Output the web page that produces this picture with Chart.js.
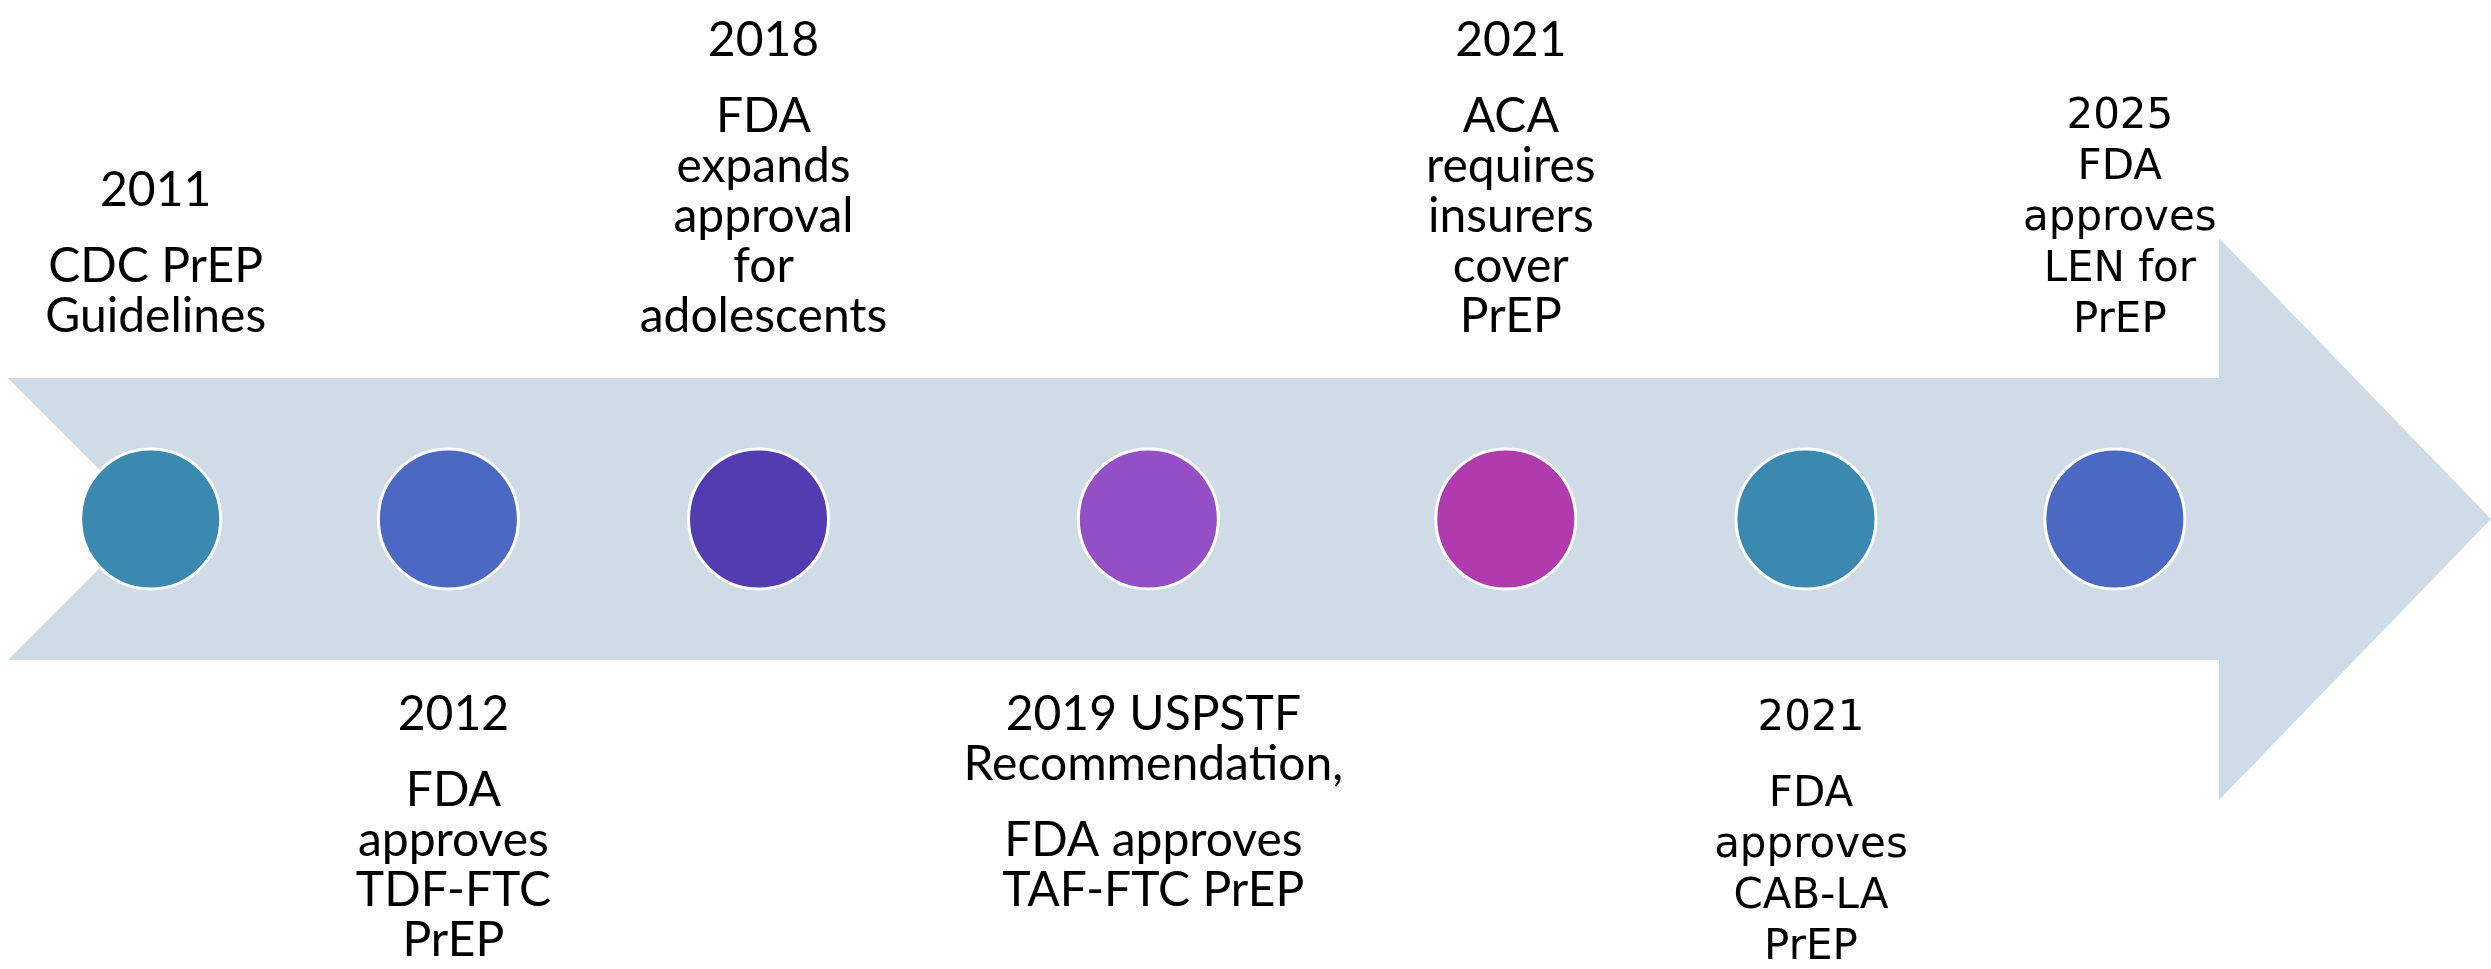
<!DOCTYPE html>
<html>
<head>
<meta charset="utf-8">
<title>PrEP timeline</title>
<script src="https://cdn.jsdelivr.net/npm/chart.js@4.4.1/dist/chart.umd.min.js"></script>
<style>
  html, body { margin: 0; padding: 0; background: #fff; }
  #wrap { width: 2491px; height: 969px; }
</style>
</head>
<body>
<div id="wrap"><canvas id="timeline"></canvas></div>
<script>
// events along the arrow (position in % of arrow length)
const eventPos = [6.05, 18.0, 30.45, 46.1, 60.45, 72.5, 84.9];
const eventSide = ['above', 'below', 'above', 'below', 'above', 'below', 'above'];
const eventText = [
    [["2011"], ["CDC PrEP", "Guidelines"]],
    [["2012"], ["FDA", "approves", "TDF-FTC", "PrEP"]],
    [["2018"], ["FDA", "expands", "approval", "for", "adolescents"]],
    [["2019 USPSTF", "Recommendation,"], ["FDA approves", "TAF-FTC PrEP"]],
    [["2021"], ["ACA", "requires", "insurers", "cover", "PrEP"]],
    [["2021"], ["FDA", "approves", "CAB-LA", "PrEP"]],
    [["2025", "FDA", "approves", "LEN for", "PrEP"]]
];

// styling
const dotColors = ['#3B89B1', '#4B68C3', '#533CB1', '#944EC6', '#B13AAE', '#3B89B1', '#4B68C3'];
const wideFont = [false, false, false, false, false, true, true];
const arrowColor = '#CFDBE6';

// arrow outline (x in %, y in hundreds of px from the centre line)
const shaftHalf = 1.41, headHalf = 2.81, headStart = 89.08, notchTip = 5.98, leftEdge = 0.32;
const arrowShape = [
    {x: leftEdge, y: shaftHalf}, {x: headStart, y: shaftHalf}, {x: headStart, y: headHalf},
    {x: 100, y: 0}, {x: headStart, y: -headHalf}, {x: headStart, y: -shaftHalf},
    {x: leftEdge, y: -shaftHalf}, {x: notchTip, y: 0}, {x: leftEdge, y: shaftHalf}
];

const labelPlugin = {
    id: 'labels',
    afterDatasetsDraw(chart) {
        const ctx = chart.ctx;
        const xs = chart.scales.x, ys = chart.scales.y;
        const y0 = ys.getPixelForValue(0);
        ctx.save();
        ctx.fillStyle = '#000';
        ctx.textAlign = 'center';
        ctx.textBaseline = 'alphabetic';
        eventText.forEach((paras, i) => {
            const x = xs.getPixelForValue(eventPos[i]) + 5;
            const wide = wideFont[i];
            ctx.font = wide ? '42px "DejaVu Sans"' : '48px Lato';
            const lineH = wide ? 51 : 50, paraGap = 76;
            // baselines relative to the first line
            const rows = [];
            let off = 0;
            paras.forEach((p, pi) => {
                if (pi > 0) off += paraGap - lineH;
                p.forEach((t, li) => {
                    if (pi > 0 || li > 0) off += lineH;
                    rows.push({t, off});
                });
            });
            let start;
            if (eventSide[i] === 'above') start = y0 - 187 - off;
            else start = y0 + 211;
            rows.forEach(r => ctx.fillText(r.t, x, start + r.off));
        });
        ctx.restore();
    }
};

new Chart(document.getElementById('timeline'), {
    type: 'scatter',
    data: {
        datasets: [{
            type: 'line',
            data: arrowShape,
            fill: 'shape',
            backgroundColor: arrowColor,
            borderColor: arrowColor,
            borderWidth: 0,
            pointRadius: 0,
            tension: 0,
            clip: false,
            order: 2
        }, {
            data: eventPos.map(p => ({x: p, y: 0})),
            pointRadius: 70,
            pointBackgroundColor: dotColors,
            pointBorderColor: '#ffffff',
            pointBorderWidth: 3,
            clip: false,
            order: 1
        }]
    },
    options: {
        responsive: true,
        maintainAspectRatio: false,
        animation: false,
        events: [],
        layout: {padding: 0, autoPadding: false},
        plugins: {
            legend: {display: false},
            tooltip: {enabled: false}
        },
        scales: {
            x: {type: 'linear', min: 0, max: 100, display: false},
            y: {type: 'linear', min: -4.5, max: 5.19, display: false}
        }
    },
    plugins: [labelPlugin]
});
</script>
</body>
</html>
